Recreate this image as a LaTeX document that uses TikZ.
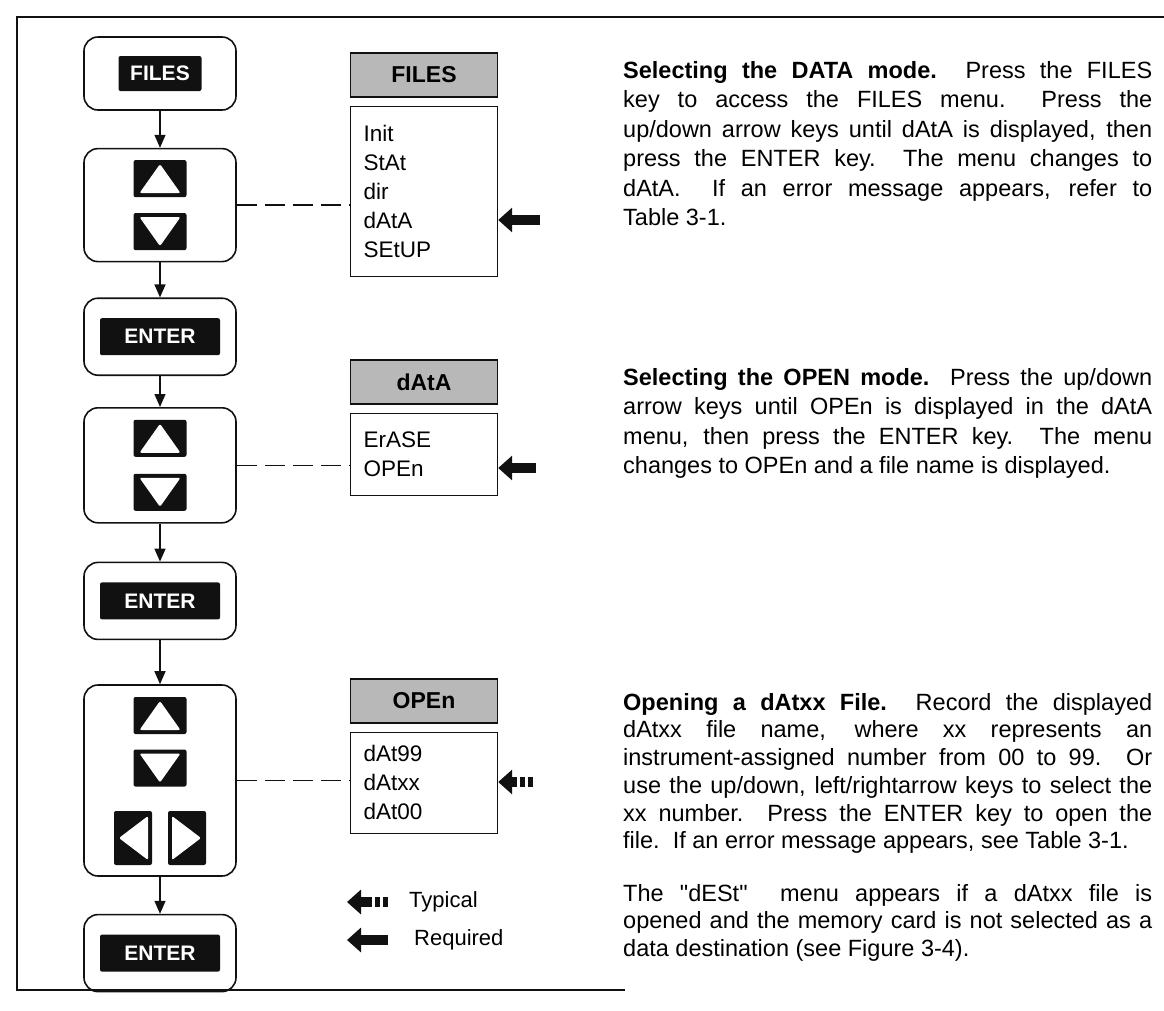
\documentclass[tikz,border=0pt]{standalone}
\usepackage{fontspec}
\setmainfont{Liberation Sans}
\newfontfamily\plainq{Liberation Sans}
\usetikzlibrary{arrows.meta,positioning}
\usepackage{xcolor}
\definecolor{Ink}{HTML}{111111}
\definecolor{Screen}{HTML}{B8B8B8}

\begin{document}
\begin{tikzpicture}[x=1pt,y=-1pt,
  box/.style={draw=Ink,line width=1.6pt,rounded corners=14pt,minimum width=152pt},
  key/.style={fill=Ink,text=white,rounded corners=2pt,minimum width=120pt,minimum height=37pt,inner sep=0pt,font=\fontsize{21}{21}\selectfont\bfseries},
  akey/.style={fill=Ink,rounded corners=2pt,minimum width=53pt,minimum height=37pt,inner sep=0pt},
  upk/.style={akey,path picture={\fill[white] ([shift={(6pt,4pt)}]path picture bounding box.south west) -- ([shift={(-6pt,4pt)}]path picture bounding box.south east) -- ([yshift=-4pt]path picture bounding box.north) -- cycle;}},
  dnk/.style={akey,path picture={\fill[white] ([shift={(6pt,-4pt)}]path picture bounding box.north west) -- ([shift={(-6pt,-4pt)}]path picture bounding box.north east) -- ([yshift=4pt]path picture bounding box.south) -- cycle;}},
  lfk/.style={akey,minimum width=38pt,minimum height=54pt,path picture={\fill[white] ([shift={(-4pt,-5pt)}]path picture bounding box.north east) -- ([shift={(-4pt,5pt)}]path picture bounding box.south east) -- ([xshift=5pt]path picture bounding box.west) -- cycle;}},
  rtk/.style={akey,minimum width=38pt,minimum height=54pt,path picture={\fill[white] ([shift={(4pt,-5pt)}]path picture bounding box.north west) -- ([shift={(4pt,5pt)}]path picture bounding box.south west) -- ([xshift=-5pt]path picture bounding box.east) -- cycle;}},
  lnk/.style={-{Triangle[length=13pt,width=11pt]},line width=1.4pt,draw=Ink},
  dsh/.style={draw=Ink,line width=1.4pt,dash pattern=on 20pt off 8pt},
  hdr/.style={draw=Ink,line width=1.2pt,fill=Screen,minimum width=147pt,minimum height=44pt,inner sep=0pt,font=\fontsize{23}{23}\selectfont\bfseries},
  lst/.style={draw=Ink,line width=1.4pt,minimum width=147pt,inner xsep=13pt,text width=121pt,align=left,font=\fontsize{22.5}{29}\selectfont},
  req/.style={-{Triangle[length=14pt,width=24pt]},line width=10pt,draw=Ink},
  typ/.style={req,dash pattern=on 5pt off 3pt on 5pt off 3pt on 40pt},
  txt/.style={anchor=north west,text width=529pt,align=justify,inner sep=0pt,font=\fontsize{23.5}{29.5}\selectfont}]
\useasboundingbox (0,0) rectangle (1164,1010);
\draw[Ink,line width=1.8pt] (1164,17) -- (17,17) -- (17,990) -- (625,990);

% key sequence
\node[box,minimum height=73pt] (b1) at (160,73.5) {}; \node[key,minimum width=83pt,minimum height=35pt] (kf) at (b1) {FILES};
\node[box,minimum height=113pt,below=37pt of b1] (b2) {};
\node[upk] (u1) at ([yshift=26.5pt]b2.center) {}; \node[dnk] (d1) at ([yshift=-26.5pt]b2.center) {};
\node[box,minimum height=77pt,below=35pt of b2] (b3) {}; \node[key] (e1) at (b3) {ENTER};
\node[box,minimum height=115pt,below=31pt of b3] (b4) {};
\node[upk] (u2) at ([yshift=27pt]b4.center) {}; \node[dnk] (d2) at ([yshift=-27pt]b4.center) {};
\node[box,minimum height=77pt,below=38pt of b4] (b5) {}; \node[key] (e2) at (b5) {ENTER};
\node[box,minimum height=191pt,below=44pt of b5] (b6) {};
\node[upk] (u3) at ([yshift=65pt]b6.center) {}; \node[dnk] (d3) at ([yshift=12.5pt]b6.center) {};
\node[lfk] (l3) at ([shift={(-27pt,-57.5pt)}]b6.center) {}; \node[rtk] (r3) at ([shift={(27pt,-57.5pt)}]b6.center) {};
\node[box,minimum height=77pt,below=37pt of b6] (b7) {}; \node[key] (e3) at (b7) {ENTER};
\draw[lnk](b1)--(b2);\draw[lnk](b2)--(b3);\draw[lnk](b3)--(b4);\draw[lnk](b4)--(b5);\draw[lnk](b5)--(b6);\draw[lnk](b6)--(b7);

% menus
\node[hdr] (h1) at (424,75) {FILES}; \node[lst,minimum height=170pt,below=8pt of h1] (m1) {Init\\StAt\\dir\\dAtA\\SEtUP};
\node[hdr] (h2) at (424,382) {dAtA}; \node[lst,minimum height=82pt,below=8pt of h2] (m2) {ErASE\\OPEn};
\node[hdr] (h3) at (424,701) {OPEn}; \node[lst,minimum height=101pt,below=8pt of h3] (m3) {dAt99\\dAtxx\\dAt00};
\draw[dsh] (b2.east) -- (b2.east -| m1.west); \draw[dsh] (b4.east) -- (b4.east -| m2.west); \draw[dsh] (b6.east) -- (b6.east -| m3.west);
\coordinate (q1) at (540,220); \draw[req] (q1) -- (q1 -| m1.east);
\coordinate (q2) at (536,468); \draw[req] (q2) -- (q2 -| m2.east);
\coordinate (q3) at (533,782); \draw[typ] (q3) -- (q3 -| m3.east);

% legend
\coordinate (g1) at (388,902); \draw[typ] (g1) -- ([xshift=-41pt]g1);
\coordinate (g2) at (388,940); \draw[req] (g2) -- ([xshift=-41pt]g2);
\node[anchor=west,inner sep=0pt,font=\fontsize{22}{22}\selectfont] (lt) at (409,902) {Typical};
\node[anchor=west,inner sep=0pt,font=\fontsize{22}{22}\selectfont] (lr) at (414,940) {Required};

% notes
\node[txt] (p1) at (623,61) {\textbf{Selecting the DATA mode.}\ \ Press the FILES \linebreak key to access the FILES menu.\ \ Press the \linebreak up/down arrow keys until dAtA is displayed, then \linebreak press the ENTER key.\ \ The menu changes to \linebreak dAtA.\ \ If an error message appears, refer to \linebreak Table 3-1.};
\node[txt] (p2) at (623,368) {\parfillskip=0pt plus 40pt\textbf{Selecting the OPEN mode.}\ \ Press the up/down \linebreak arrow keys until OPEn is displayed in the dAtA \linebreak menu, then press the ENTER key.\ \ The menu \linebreak changes to OPEn and a file name is displayed.};
\node[txt,font=\fontsize{23.5}{27.7}\selectfont] (p3) at (623,693) {\parfillskip=0pt\textbf{Opening a dAtxx File.}\ \ Record the displayed \linebreak dAtxx file name, where xx represents an \linebreak instrument-assigned number from 00 to 99.\ \ Or \linebreak use the up/down, left/rightarrow keys to select the \linebreak xx number.\ \ Press the ENTER key to open the \linebreak file.\ \ If an error message appears, see Table 3-1.};
\node[txt,font=\fontsize{23.5}{27.7}\selectfont] (p4) at (623,884) {The {\plainq "dESt"}\ \ menu appears if a dAtxx file is \linebreak opened and the memory card is not selected as a \linebreak data destination (see Figure 3-4).};
\end{tikzpicture}
\end{document}
